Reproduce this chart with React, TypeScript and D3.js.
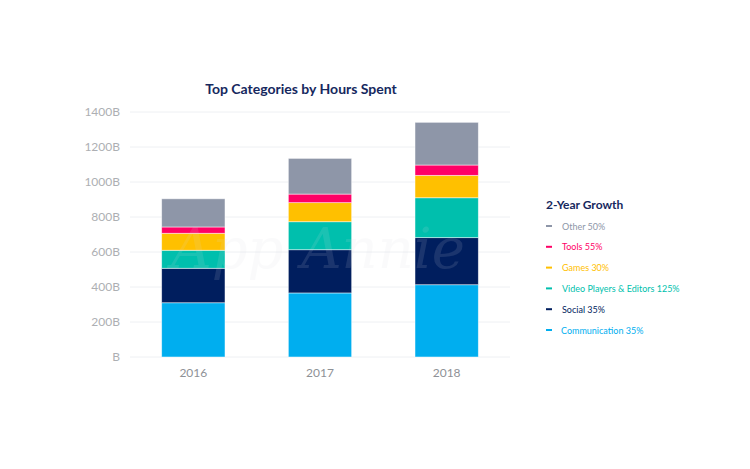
import React, { useEffect, useRef } from 'react';
import * as d3 from 'd3';

const years = ['2016', '2017', '2018'];
const seriesNames = ['Communication', 'Social', 'Video Players & Editors', 'Games', 'Tools', 'Other'];
const communication = [310, 366, 413];
const social = [197, 247, 269];
const video = [103, 160, 228];
const games = [97, 109, 128];
const tools = [36, 49, 59];
const other = [161, 204, 244];
const growthLabels = ['Communication 35%', 'Social 35%', 'Video Players & Editors 125%', 'Games 30%', 'Tools 55%', 'Other 50%'];
const colors = ['#00AEEF', '#001E5E', '#00BFAD', '#FFC000', '#FF0066', '#8E96A8'];
const yTicks = [0, 200, 400, 600, 800, 1000, 1200, 1400];

export default function App() {
  const svgRef = useRef<SVGSVGElement>(null);

  useEffect(() => {
    if (!svgRef.current) return;
    const svg = d3.select(svgRef.current);
    svg.selectAll('*').remove();

    const width = 750;
    const height = 469;
    const font = 'Lato, "Open Sans", sans-serif';
    svg.attr('width', width).attr('height', height).style('font-family', font);

    const margin = { top: 112, left: 130, right: 240, bottom: 112 };
    const x = d3.scaleBand().domain(years).range([margin.left, width - margin.right])
      .paddingInner(0.5).paddingOuter(0.25);
    const y = d3.scaleLinear().domain([0, 1400]).range([height - margin.bottom, margin.top]);

    const rows = years.map((yr, i) => ({
      year: yr,
      Communication: communication[i],
      Social: social[i],
      'Video Players & Editors': video[i],
      Games: games[i],
      Tools: tools[i],
      Other: other[i],
    }));
    const stack = d3.stack<any>().keys(seriesNames);
    const layers = stack(rows);

    // gridlines
    svg.append('g')
      .selectAll('line')
      .data(yTicks)
      .enter().append('line')
      .attr('x1', margin.left)
      .attr('x2', width - margin.right)
      .attr('y1', (d) => y(d))
      .attr('y2', (d) => y(d))
      .attr('stroke', '#EEF0F3')
      .attr('stroke-width', 1);

    // y labels
    svg.append('g')
      .selectAll('text')
      .data(yTicks)
      .enter().append('text')
      .attr('x', 120)
      .attr('y', (d) => y(d) + 4)
      .attr('text-anchor', 'end')
      .attr('fill', '#ADAFB3')
      .style('font-size', '12px')
      .text((d) => `${d === 0 ? '' : d}B`);

    // bars
    svg.append('g')
      .selectAll('g')
      .data(layers)
      .enter().append('g')
      .attr('fill', (_, i) => colors[i])
      .selectAll('rect')
      .data((d) => d)
      .enter().append('rect')
      .attr('x', (d) => x(d.data.year)!)
      .attr('width', x.bandwidth())
      .attr('y', (d) => y(d[1]))
      .attr('height', (d) => y(d[0]) - y(d[1]))
      .attr('stroke', 'rgba(255,255,255,0.6)')
      .attr('stroke-width', 0.8);

    // watermark
    svg.append('text')
      .attr('x', 318)
      .attr('y', 268)
      .attr('text-anchor', 'middle')
      .attr('fill', '#D8DCE2')
      .attr('opacity', 0.12)
      .style('font-size', '56px')
      .style('font-style', 'italic')
      .style('font-family', '"DejaVu Serif", serif')
      .text('App Annie');

    // x labels
    svg.append('g')
      .selectAll('text')
      .data(years)
      .enter().append('text')
      .attr('x', (d) => x(d)! + x.bandwidth() / 2)
      .attr('y', 377)
      .attr('text-anchor', 'middle')
      .attr('fill', '#8E9196')
      .style('font-size', '12px')
      .text((d) => d);

    // title
    svg.append('text')
      .attr('x', 301)
      .attr('y', 94)
      .attr('text-anchor', 'middle')
      .attr('fill', '#16285E')
      .style('font-size', '14px')
      .style('font-weight', 'bold')
      .text('Top Categories by Hours Spent');

    // legend
    const legend = svg.append('g').attr('transform', 'translate(546, 0)');
    legend.append('text')
      .attr('x', 0)
      .attr('y', 209)
      .attr('fill', '#16285E')
      .style('font-size', '12px')
      .style('font-weight', 'bold')
      .text('2-Year Growth');

    const order = d3.range(seriesNames.length).reverse();
    const item = legend.selectAll('.item')
      .data(order)
      .enter().append('g')
      .attr('class', 'item')
      .attr('transform', (_, j) => `translate(0, ${226 + j * 20.8})`);
    item.append('line')
      .attr('x1', 0)
      .attr('x2', 6)
      .attr('y1', 0)
      .attr('y2', 0)
      .attr('stroke', (i) => colors[i])
      .attr('stroke-width', 2);
    item.append('text')
      .attr('x', (i) => (i === 0 ? 15 : 16))
      .attr('y', 3.5)
      .attr('fill', (i) => colors[i])
      .style('font-size', '9px')
      .text((i) => growthLabels[i]);
  }, []);

  return (
    <div style={{ margin: -8 }}>
      <svg ref={svgRef}></svg>
    </div>
  );
}
